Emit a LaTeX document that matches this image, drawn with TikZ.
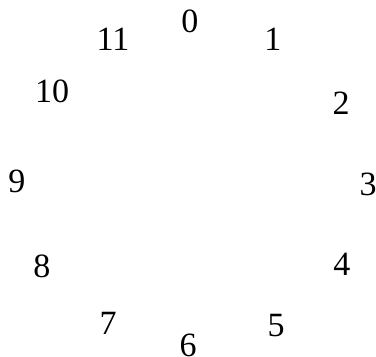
\documentclass[tikz,border=0pt]{standalone}
\usepackage{fontspec}
\setmainfont{Liberation Serif}
\tikzset{num/.style={inner sep=0pt, font=\fontsize{34}{34}\selectfont}}

\begin{document}
\begin{tikzpicture}[x=1pt, y=1pt]
  \useasboundingbox (0,0) rectangle (376,357);
  \foreach \n/\x/\y in {0/190/336, 1/273/318, 2/341/254, 3/368/173,
      4/342/93, 5/276/31, 6/188/12, 7/108/34, 8/42/91, 9/17/176,
      10/52/266, 11/113/318}
    \node[num] (n\n) at (\x,\y) {\n};
\end{tikzpicture}
\end{document}
